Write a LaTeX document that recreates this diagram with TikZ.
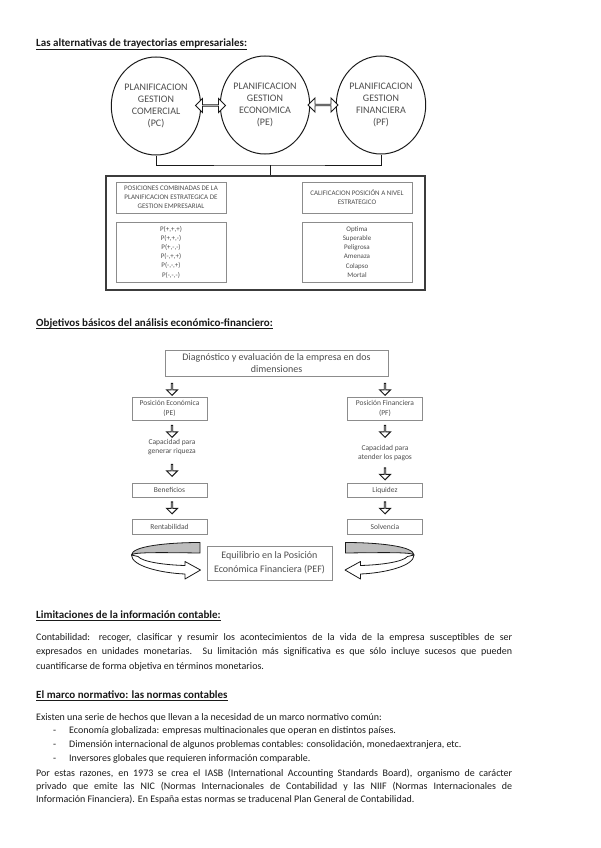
\documentclass[tikz,border=0pt]{standalone}
\usepackage{fontspec}
\setmainfont{Carlito}
\usetikzlibrary{arrows.meta, positioning, shapes.geometric, shapes.arrows, calc}
\definecolor{InkA}{HTML}{1A1A1A}
\definecolor{InkB}{HTML}{4D4D4D}
\definecolor{LineA}{HTML}{8C8C8C}
\definecolor{BandA}{HTML}{BDBDBD}
\tikzset{
  head/.style={anchor=base west, inner sep=0pt, font=\fontsize{11}{13}\selectfont\bfseries, text=InkA},
  body/.style={anchor=base west, inner sep=0pt, font=\fontsize{10}{12}\selectfont, text=InkA},
  uline/.style={line width=0.6pt, draw=InkA},
  circ/.style={ellipse, draw=InkA, line width=1pt, minimum width=84pt, minimum height=98pt,
    inner sep=0pt, align=center, font=\fontsize{10}{12.2}\selectfont, text=InkB},
  obox/.style={draw=InkA!85, line width=1.3pt, minimum width=319pt, minimum height=114pt, inner sep=0pt},
  ibox/.style={draw=LineA, line width=0.7pt, minimum width=110pt, inner sep=0pt, align=center,
    font=\fontsize{7}{9.2}\selectfont, text=InkB},
  pbox/.style={draw=LineA, line width=0.7pt, minimum width=75pt, inner sep=0pt, align=center,
    font=\fontsize{7.5}{10.5}\selectfont, text=InkB},
  bigbox/.style={draw=LineA, line width=0.7pt, inner sep=0pt, align=center,
    font=\fontsize{10}{12.5}\selectfont, text=InkB},
  note/.style={inner sep=0pt, align=center, font=\fontsize{7.5}{9.5}\selectfont, text=InkB},
  darrow/.style={double arrow, draw=InkA, fill=white, line width=0.9pt, minimum height=30pt,
    minimum width=14pt, double arrow head extend=3.5pt, inner sep=0pt},
  downarr/.style={single arrow, draw=InkA, fill=white, line width=0.9pt, shape border rotate=270,
    minimum height=12pt, minimum width=11pt, single arrow head extend=3pt, inner sep=0pt},
  brk/.style={draw=InkA, line width=1pt},
  band/.style={draw=InkA, line width=0.8pt, line join=round},
  ringarrow/.pic={
    \fill[band, fill=BandA] (-0.5,-27.5) .. controls (-32,-27.5) and (-69,-24) .. (-69,-15)
      .. controls (-67,-18) and (-40,-17.5) .. (-0.5,-17) -- cycle;
    \fill[band, fill=white] (-69,-15) .. controls (-69,-4) and (-40,3) .. (-15.5,4)
      -- (-15.5,9) -- (0,0) -- (-15.5,-8.5) -- (-15.5,-4.5)
      .. controls (-35,-5) and (-58,-8) .. (-62.5,-13.5) -- cycle;
  },
}

\begin{document}
\begin{tikzpicture}[x=1pt, y=-1pt]
    \useasboundingbox (0,0) rectangle (600,848);

    % trayectorias empresariales
    \node[head] (h1) at (36,47) {Las alternativas de trayectorias empresariales:};
    \draw[uline] ($(h1.base west)+(0,2)$) -- ($(h1.base east)+(0,2)$);

    \node[circ] (pc) at (156,106) {PLANIFICACION\\GESTION\\COMERCIAL\\(PC)};
    \node[circ] (pe) at (265,105) {PLANIFICACION\\GESTION\\ECONOMICA\\(PE)};
    \node[circ] (pf) at (381,105) {PLANIFICACION\\GESTION\\FINANCIERA\\(PF)};
    \node[darrow] at ($(pc.east)!0.5!(pe.west)$) {};
    \node[darrow] at ($(pe.east)!0.5!(pf.west)$) {};

    \node[obox] (marco) at (265.5,233) {};
    \coordinate (jn) at (270,165);
    \draw[brk] (pc.south) |- (jn) -| (pf.south);
    \draw[brk] (jn) -- (jn |- marco.north);

    \node[ibox, minimum height=31pt] (pos) at (171,197.5)
      {POSICIONES COMBINADAS DE LA\\PLANIFICACION ESTRATEGICA DE\\GESTION EMPRESARIAL};
    \node[ibox, minimum height=31pt] (cal) at (357,197.5)
      {CALIFICACION POSICIÓN A NIVEL\\ESTRATEGICO};
    \node[ibox, minimum height=60pt] (comb) at (171,252)
      {P(+,+,+)\\P(+,+,-)\\P(+,-,-)\\P(-,+,+)\\P(-,-,+)\\P(-,-,-)};
    \node[ibox, minimum height=60pt] (niv) at (357,252)
      {Optima\\Superable\\Peligrosa\\Amenaza\\Colapso\\Mortal};

    % analisis economico-financiero
    \node[head] (h2) at (36,326) {Objetivos básicos del análisis económico-financiero:};
    \draw[uline] ($(h2.base west)+(0,2)$) -- ($(h2.base east)+(0,2)$);

    \node[bigbox, minimum width=223pt, minimum height=26pt] (diag) at (276.5,363)
      {Diagnóstico y evaluación de la empresa en dos\\dimensiones};
    \node[pbox, minimum height=23pt] (pe2) at (169.5,408.5) {Posición Económica\\(PE)};
    \node[pbox, minimum height=23pt] (pf2) at (385,408.5) {Posición Financiera\\(PF)};
    \node[note] (cap1) at (172,447) {Capacidad para\\generar riqueza};
    \node[note] (cap2) at (385,453) {Capacidad para\\atender los pagos};
    \node[pbox, minimum height=14pt] (ben) at (169.5,490) {Beneficios};
    \node[pbox, minimum height=14pt] (liq) at (385,490) {Liquidez};
    \node[pbox, minimum height=15pt] (ren) at (169.5,526.5) {Rentabilidad};
    \node[pbox, minimum height=15pt] (sol) at (385,526.5) {Solvencia};
    \node[bigbox, minimum width=125pt, minimum height=34pt, font=\fontsize{10}{14}\selectfont] (pef)
      at (269.5,563) {Equilibrio en la Posición\\Económica Financiera (PEF)};

    \node[downarr] at (172,389) {};
    \node[downarr] at (385,389) {};
    \node[downarr] at (172,431) {};
    \node[downarr] at (385,431) {};
    \node[downarr] at (172,470) {};
    \node[downarr] at (385,473.5) {};
    \node[downarr] at (172,507.5) {};
    \node[downarr] at (385,507.5) {};

    \pic at (200.5,570) {ringarrow};
    \pic[xscale=-1] at (345,570) {ringarrow};

    % limitaciones
    \node[head] (h3) at (36,618) {Limitaciones de la información contable:};
    \draw[uline] ($(h3.base west)+(0,2)$) -- ($(h3.base east)+(0,2)$);
    \node[body] (l1) at (36,640) {\makebox[476pt][s]{Contabilidad: recoger, clasificar y resumir los acontecimientos de la vida de la empresa susceptibles de ser}};
    \node[body] (l2) at (36,654.5) {\makebox[476pt][s]{expresados en unidades monetarias. Su limitación más significativa es que sólo incluye sucesos que pueden}};
    \node[body] (l3) at (36,669) {cuantificarse de forma objetiva en términos monetarios.};

    % marco normativo
    \node[head] (h4) at (36,698) {El marco normativo: las normas contables};
    \draw[uline] ($(h4.base west)+(0,2)$) -- ($(h4.base east)+(0,2)$);
    \node[body] (m1) at (36,720) {Existen una serie de hechos que llevan a la necesidad de un marco normativo común:};
    \node[body] (d1) at (53,733.5) {-};
    \node[body] (m2) at (69,733.5) {Economía globalizada: empresas multinacionales que operan en distintos países.};
    \node[body] (d2) at (53,747) {-};
    \node[body] (m3) at (69,747) {Dimensión internacional de algunos problemas contables: consolidación, monedaextranjera, etc.};
    \node[body] (d3) at (53,761) {-};
    \node[body] (m4) at (69,761) {Inversores globales que requieren información comparable.};
    \node[body] (m5) at (36,776) {\makebox[476pt][s]{Por estas razones, en 1973 se crea el IASB (International Accounting Standards Board), organismo de carácter}};
    \node[body] (m6) at (36,789) {\makebox[476pt][s]{privado que emite las NIC (Normas Internacionales de Contabilidad y las NIIF (Normas Internacionales de}};
    \node[body] (m7) at (36,802) {Información Financiera). En España estas normas se traducenal Plan General de Contabilidad.};
  \end{tikzpicture}
\end{document}
